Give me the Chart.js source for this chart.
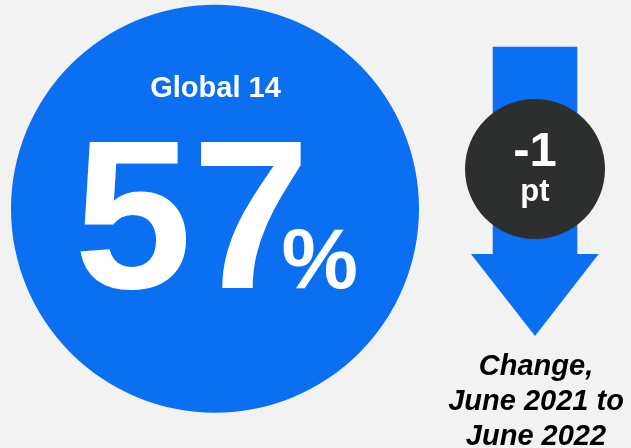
<!DOCTYPE html>
<html>
<head>
<meta charset="utf-8">
<script src="https://cdn.jsdelivr.net/npm/chart.js@4/dist/chart.umd.min.js"></script>
<style>
  html, body { margin: 0; padding: 0; background: #f2f2f2; }
  #wrap { width: 631px; height: 448px; }
</style>
</head>
<body>
<div id="wrap"><canvas id="c" width="631" height="448"></canvas></div>
<script>
// Headline figure
const regions = ['Global 14'];
const shareValues = [57];          // percent
// Year-on-year change
const changeValues = [-1];         // percentage points
const changeUnit = 'pt';
const periodLabels = ['Change,', 'June 2021 to', 'June 2022'];

const BLUE = '#0b6ff2';
const DARK = '#2d2f2e';
const FONT = '"Liberation Sans", Arial, sans-serif';

// Draws the headline number inside the disc, plus the change arrow and its badge.
const infographic = {
  id: 'infographic',
  afterDatasetsDraw(chart) {
    const ctx = chart.ctx;
    const arc = chart.getDatasetMeta(0).data[0];
    const cx = arc.x, cy = arc.y, r = arc.outerRadius;

    ctx.save();
    ctx.fillStyle = '#ffffff';
    ctx.textBaseline = 'alphabetic';

    // region name
    ctx.font = 'bold 29px ' + FONT;
    ctx.textAlign = 'center';
    ctx.fillText(regions[0], cx + 0.5, cy - r * 0.548);

    // big value + percent sign sharing one baseline
    const base = cy + r * 0.39;
    ctx.textAlign = 'left';
    ctx.font = 'bold 212px ' + FONT;
    const numText = String(shareValues[0]);
    const x0 = cx - 141;
    ctx.fillText(numText, x0, base);
    ctx.font = 'bold 86px ' + FONT;
    ctx.fillText('%', x0 + 207.5, base);

    // change arrow (points down for a fall, up for a rise)
    const ax = 535;
    const down = changeValues[0] <= 0;
    ctx.save();
    if (!down) { ctx.translate(0, 46.7 + 336); ctx.scale(1, -1); }
    ctx.fillStyle = BLUE;
    ctx.beginPath();
    ctx.moveTo(ax - 42.3, 46.7);
    ctx.lineTo(ax + 42.3, 46.7);
    ctx.lineTo(ax + 42.3, 254);
    ctx.lineTo(ax + 63.7, 254);
    ctx.lineTo(ax, 336);
    ctx.lineTo(ax - 64, 254);
    ctx.lineTo(ax - 42.3, 254);
    ctx.closePath();
    ctx.fill();
    ctx.restore();

    // badge
    ctx.fillStyle = DARK;
    ctx.beginPath();
    ctx.arc(ax, 169, 70, 0, Math.PI * 2);
    ctx.fill();

    ctx.fillStyle = '#ffffff';
    ctx.textAlign = 'center';
    const v = changeValues[0];
    const label = (v > 0 ? '+' : v < 0 ? '-' : '') + Math.abs(v);
    ctx.font = 'bold 49px ' + FONT;
    ctx.fillText(label, ax, 166);
    ctx.font = 'bold 31px ' + FONT;
    ctx.fillText(changeUnit, ax, 201);

    // period caption
    ctx.fillStyle = '#000000';
    ctx.font = 'italic bold 29px ' + FONT;
    periodLabels.forEach((t, i) => ctx.fillText(t, ax + 1, 375 + i * 35));

    ctx.restore();
  }
};

new Chart(document.getElementById('c'), {
  type: 'pie',
  data: {
    labels: regions,
    datasets: [{
      data: shareValues,
      backgroundColor: BLUE,
      borderWidth: 0,
      hoverOffset: 0
    }]
  },
  options: {
    responsive: false,
    animation: false,
    events: [],
    layout: { padding: { left: 11, top: 4.5, right: 212, bottom: 35 } },
    plugins: {
      legend: { display: false },
      tooltip: { enabled: false }
    }
  },
  plugins: [infographic]
});
</script>
</body>
</html>
